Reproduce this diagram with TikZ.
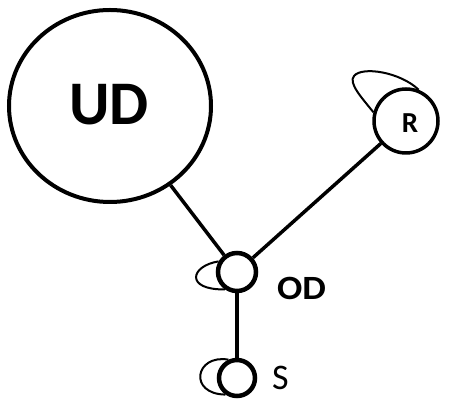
\documentclass[tikz,border=0pt]{standalone}
\usepackage{fontspec}
\setmainfont{Carlito}
\usetikzlibrary{shapes.geometric}
\begin{document}
\begin{tikzpicture}[x=1pt,y=1pt,
  vert/.style={draw=black,circle,inner sep=0pt},
  edgeline/.style={draw=black,line width=3.5pt},
  loopline/.style={draw=black,line width=2pt},
  lbl/.style={inner sep=0pt,anchor=base,text depth=0pt}]
\useasboundingbox (0,0) rectangle (454,398);
\node[draw=black,ellipse,line width=4pt,minimum width=202pt,minimum height=192pt,inner sep=0pt] (UD) at (110,292) {};
\node[vert,line width=3.5pt,minimum size=64pt] (R) at (406,277) {};
\node[vert,line width=4.5pt,minimum size=38pt] (OD) at (237,126) {};
\node[vert,line width=4.5pt,minimum size=36pt] (S) at (237,20) {};
\node[lbl,font=\bfseries\fontsize{62}{62}\selectfont] (UDt) at (109,273) {UD};
\node[lbl,font=\bfseries\fontsize{29}{29}\selectfont] (Rt) at (410,265) {R};
\node[lbl,font=\bfseries\fontsize{34}{34}\selectfont,xscale=1.1] (ODt) at (301.5,98) {OD};
\node[lbl,font=\fontsize{36}{36}\selectfont] (St) at (280.5,9) {S};
\draw[edgeline] (UD) -- (OD);
\draw[edgeline] (R) -- (OD);
\draw[edgeline] (OD) -- (S);
\draw[loopline] (OD.150) .. controls (190,132) and (185,108) .. (OD.235);
\draw[loopline] (S.115) .. controls (195,44) and (188,4) .. (S.235);
\draw[loopline] (R.165) .. controls (362,300) and (348,315) .. (354,322) .. controls (362,332) and (400,326) .. (R.68);
\end{tikzpicture}
\end{document}
